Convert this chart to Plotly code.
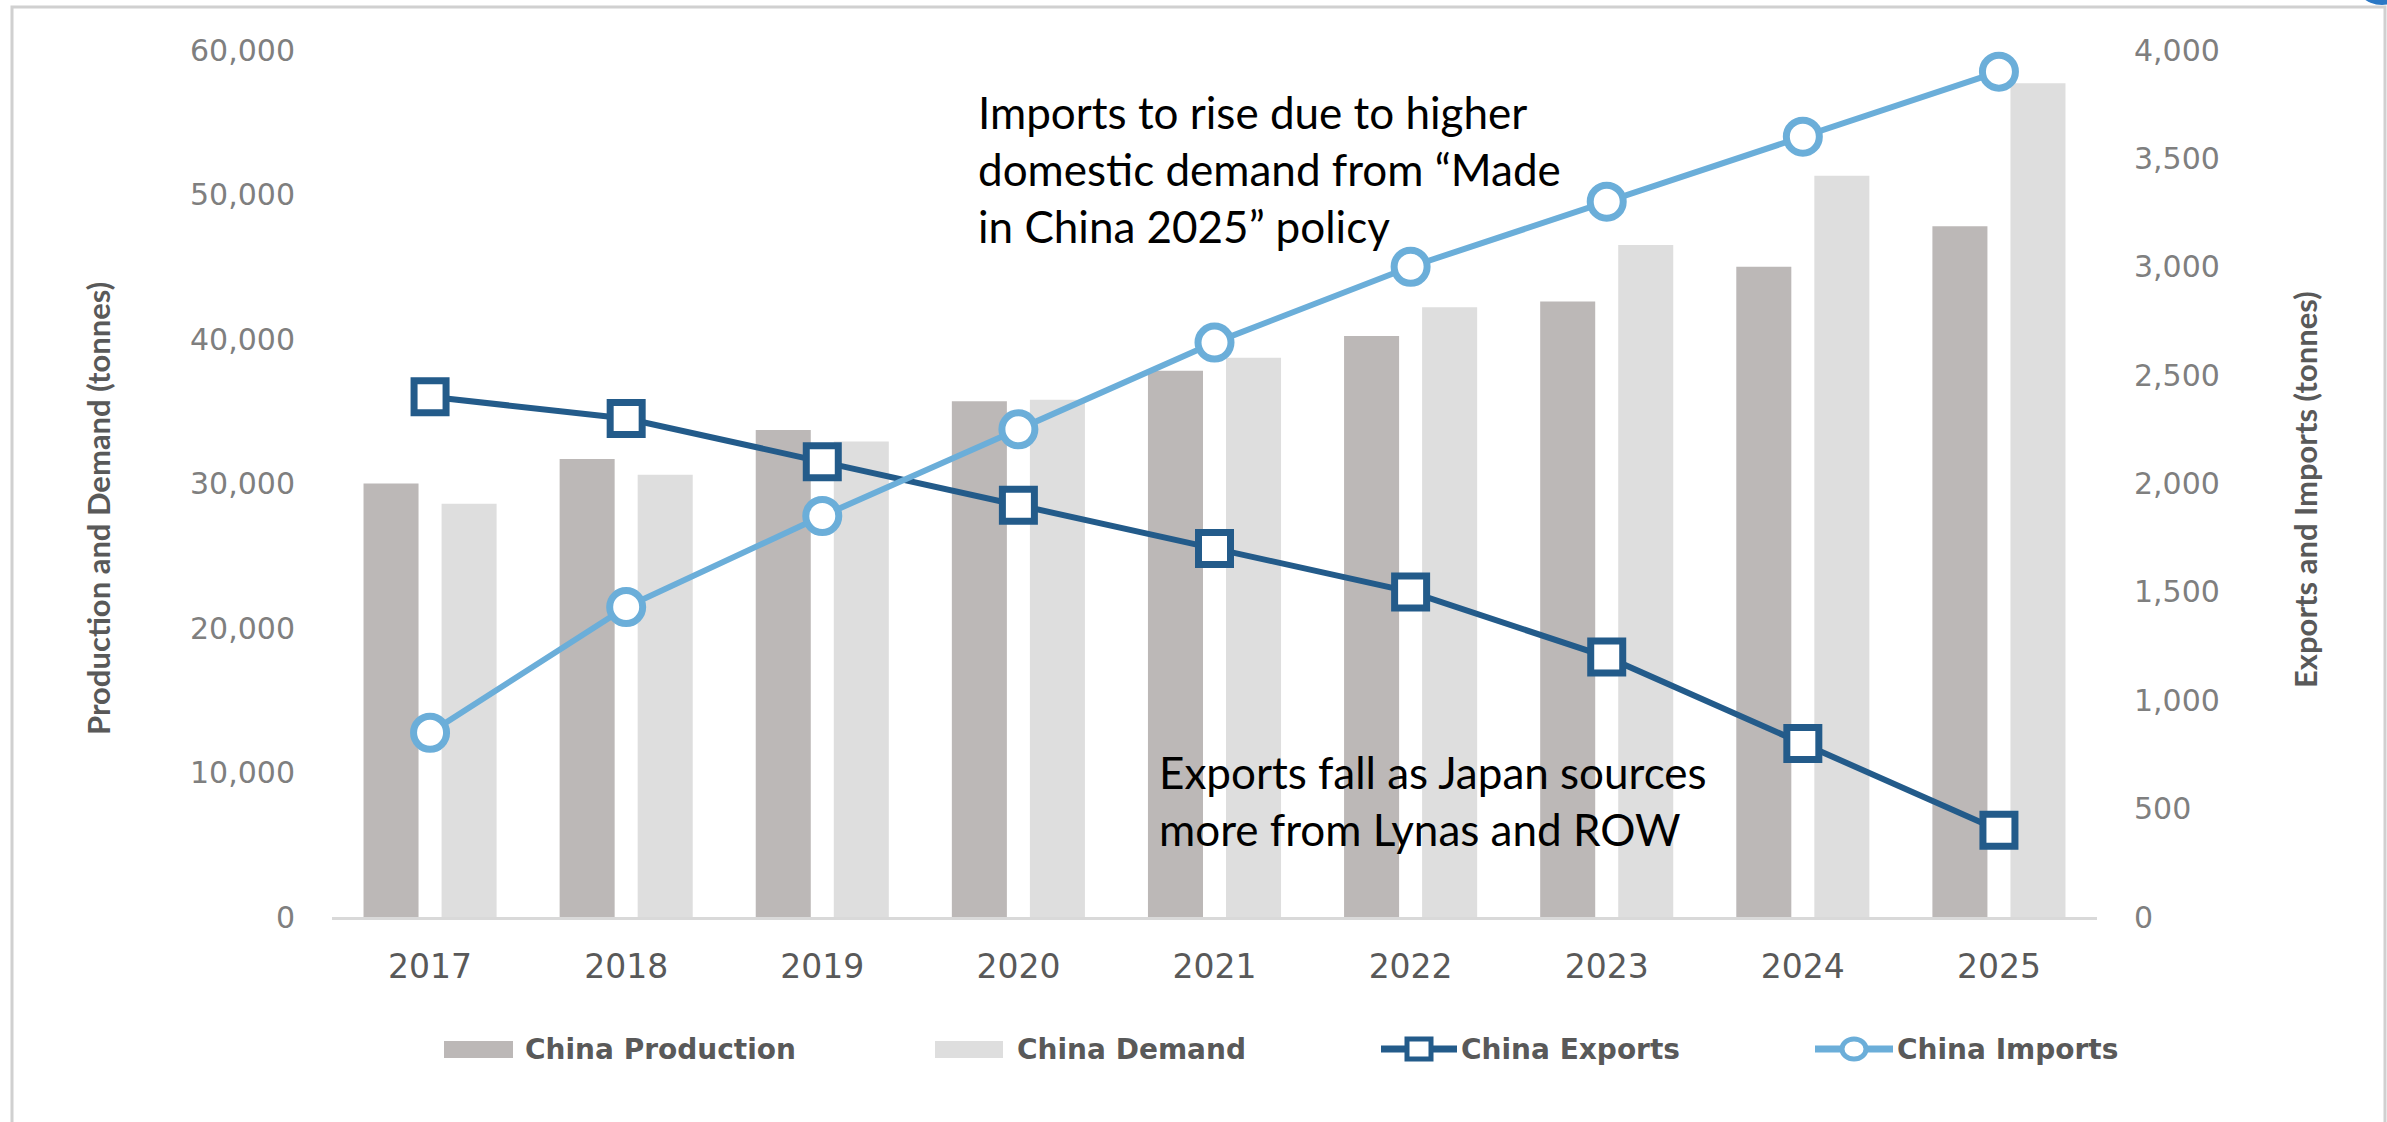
import plotly.graph_objects as go

# ---- data -------------------------------------------------------------
years = ["2017", "2018", "2019", "2020", "2021", "2022", "2023", "2024", "2025"]
china_production = [30000, 31700, 33700, 35700, 37800, 40200, 42600, 45000, 47800]
china_demand = [28600, 30600, 32900, 35800, 38700, 42200, 46500, 51300, 57700]
china_exports = [2400, 2300, 2100, 1900, 1700, 1500, 1200, 800, 400]
china_imports = [850, 1430, 1850, 2250, 2650, 3000, 3300, 3600, 3900]

left_ticks = [0, 10000, 20000, 30000, 40000, 50000, 60000]
right_ticks = [0, 500, 1000, 1500, 2000, 2500, 3000, 3500, 4000]

# ---- styling ----------------------------------------------------------
W, H = 2387, 1122
PL, PR, PT, PB = 332, 2097, 50, 917  # plot area in pixels

C_PROD = "#BCB8B7"
C_DEM = "#DEDEDE"
C_EXP = "#235B8A"
C_IMP = "#6BAED9"
TXT_GREY = "#595959"
TICK_GREY = "#7F7F7F"
TICK_FONT = "DejaVu Sans"
NOTE_FONT = "Lato"


def px(x):
    """horizontal pixel -> paper coordinate"""
    return (x - PL) / (PR - PL)


def py(y):
    """vertical pixel -> paper coordinate"""
    return (PB - y) / (PB - PT)


fig = go.Figure()

fig.add_trace(go.Bar(
    x=years, y=china_production, name="China Production",
    marker=dict(color=C_PROD, line=dict(width=0)),
))
fig.add_trace(go.Bar(
    x=years, y=china_demand, name="China Demand",
    marker=dict(color=C_DEM, line=dict(width=0)),
))
fig.add_trace(go.Scatter(
    x=years, y=china_exports, name="China Exports", yaxis="y2",
    mode="lines+markers",
    line=dict(color=C_EXP, width=6),
    marker=dict(symbol="square", size=32, color="white",
                line=dict(color=C_EXP, width=7)),
))
fig.add_trace(go.Scatter(
    x=years, y=china_imports, name="China Imports", yaxis="y2",
    mode="lines+markers",
    line=dict(color=C_IMP, width=6),
    marker=dict(symbol="circle", size=33, color="white",
                line=dict(color=C_IMP, width=7)),
))

fig.update_layout(
    width=W, height=H,
    margin=dict(l=PL, r=W - PR, t=PT, b=H - PB, pad=0, autoexpand=False),
    paper_bgcolor="white", plot_bgcolor="white",
    showlegend=False,
    barmode="group", bargap=0.204, bargroupgap=0.295,
    xaxis=dict(
        type="category", range=[-0.5, len(years) - 0.5],
        showgrid=False, zeroline=False, automargin=False,
        showline=True, linecolor="#D9D9D9", linewidth=3,
        ticks="", ticklabelstandoff=18,
        tickfont=dict(family=TICK_FONT, size=33, color=TXT_GREY),
    ),
    yaxis=dict(
        range=[0, 60000], tickvals=left_ticks, tickformat=",d",
        showgrid=False, zeroline=False, showline=False, automargin=False,
        ticks="", ticklabelstandoff=36,
        tickfont=dict(family=TICK_FONT, size=30, color=TICK_GREY),
    ),
    yaxis2=dict(
        range=[0, 4000], tickvals=right_ticks, tickformat=",d",
        overlaying="y", side="right", automargin=False,
        showgrid=False, zeroline=False, showline=False,
        ticks="", ticklabelstandoff=36,
        tickfont=dict(family=TICK_FONT, size=30, color=TICK_GREY),
    ),
)

annotations = []
# axis titles
annotations.append(dict(
    text="Production and Demand (tonnes)", textangle=-90,
    x=px(98), y=py(509), xref="paper", yref="paper",
    xanchor="center", yanchor="middle", showarrow=False,
    font=dict(family=NOTE_FONT, size=31, color=TXT_GREY, weight="bold"),
))
annotations.append(dict(
    text="Exports and Imports (tonnes)", textangle=-90,
    x=px(2305), y=py(490), xref="paper", yref="paper",
    xanchor="center", yanchor="middle", showarrow=False,
    font=dict(family=NOTE_FONT, size=31, color=TXT_GREY, weight="bold"),
))
# commentary
annotations.append(dict(
    text="Imports to rise due to higher<br>domestic demand from “Made<br>in China 2025” policy",
    x=px(976), y=py(84), xref="paper", yref="paper",
    xanchor="left", yanchor="top", align="left", showarrow=False,
    font=dict(family=NOTE_FONT, size=44, color="black"),
))
annotations.append(dict(
    text="Exports fall as Japan sources<br>more from Lynas and ROW",
    x=px(1157), y=py(744), xref="paper", yref="paper",
    xanchor="left", yanchor="top", align="left", showarrow=False,
    font=dict(family=NOTE_FONT, size=44, color="black"),
))

shapes = []
# legend row
LEG_Y = 1049
legend_items = [
    ("China Production", "bar", C_PROD, 444, 513, 523),
    ("China Demand", "bar", C_DEM, 935, 1003, 1015),
    ("China Exports", "square", C_EXP, 1381, 1457, 1459),
    ("China Imports", "circle", C_IMP, 1815, 1893, 1895),
]
for label, kind, color, x0, x1, tx in legend_items:
    if kind == "bar":
        shapes.append(dict(type="rect", xref="paper", yref="paper",
                           x0=px(x0), x1=px(x1), y0=py(LEG_Y + 9), y1=py(LEG_Y - 8),
                           fillcolor=color, line=dict(width=0)))
    else:
        cx = (x0 + x1) / 2
        shapes.append(dict(type="line", xref="paper", yref="paper",
                           x0=px(x0), x1=px(x1), y0=py(LEG_Y), y1=py(LEG_Y),
                           line=dict(color=color, width=7)))
        shapes.append(dict(type="rect" if kind == "square" else "circle",
                           xref="paper", yref="paper",
                           x0=px(cx - 12), x1=px(cx + 12),
                           y0=py(LEG_Y + 10), y1=py(LEG_Y - 10),
                           fillcolor="white", line=dict(color=color, width=5)))
    annotations.append(dict(
        text=label, x=px(tx), y=py(LEG_Y), xref="paper", yref="paper",
        xanchor="left", yanchor="middle", showarrow=False,
        font=dict(family=TICK_FONT, size=28, color=TXT_GREY, weight="bold"),
    ))

# chart frame
shapes.append(dict(type="rect", xref="paper", yref="paper",
                   x0=px(12), x1=px(2385), y0=py(1140), y1=py(7),
                   fillcolor="rgba(0,0,0,0)", line=dict(color="#D0D0D0", width=3),
                   layer="below"))
# small blue corner mark at top right
shapes.append(dict(type="circle", xref="paper", yref="paper",
                   x0=px(2352), x1=px(2412), y0=py(5), y1=py(-55),
                   fillcolor="#2B78C5", line=dict(width=0)))

fig.update_layout(annotations=annotations, shapes=shapes)

fig.write_html("out.html")
